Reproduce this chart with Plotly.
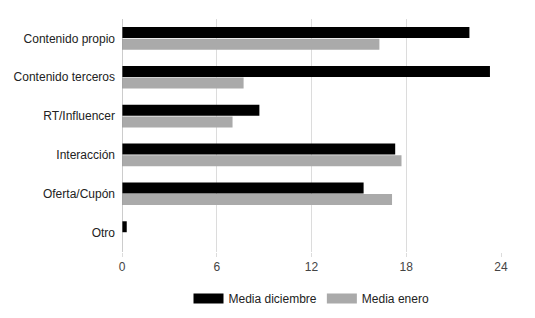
import plotly.graph_objects as go

categories = ["Contenido propio", "Contenido terceros", "RT/Influencer", "Interacción", "Oferta/Cupón", "Otro"]
media_diciembre = [22.0, 23.3, 8.7, 17.3, 15.3, 0.3]
media_enero = [16.3, 7.7, 7.0, 17.7, 17.1, 0]
x_ticks = [0, 6, 12, 18, 24]
series_names = ["Media diciembre", "Media enero"]
series_colors = ["#000000", "#aaaaaa"]

fig = go.Figure()
for name, vals, col in zip(series_names, [media_diciembre, media_enero], series_colors):
    fig.add_trace(go.Bar(y=categories, x=vals, orientation="h", name=name, showlegend=False,
                         marker=dict(color=col, line=dict(width=0))))
# legend entries with wide rectangular swatches
for name, col in zip(series_names, series_colors):
    fig.add_trace(go.Scatter(x=[None], y=[None], mode="lines", name=name,
                             line=dict(color=col, width=11)))

fig.update_layout(
    width=535, height=318,
    margin=dict(l=122, r=34, t=19, b=66, autoexpand=False),
    paper_bgcolor="white", plot_bgcolor="white",
    barmode="group", bargap=0.4, bargroupgap=0.06,
    font=dict(family="Liberation Sans, Arial, sans-serif", size=12, color="#222222"),
    legend=dict(orientation="h", x=0.5, xanchor="center", y=-0.2, yanchor="middle",
                font=dict(size=12, color="#222222"), itemwidth=30, tracegroupgap=0),
    xaxis=dict(range=[0, 24], tickvals=x_ticks, showgrid=True, gridcolor="#dcdcdc", gridwidth=1,
               zeroline=False, showline=False, tickfont=dict(color="#444444", size=12),
               ticks="outside", ticklen=4, tickcolor="#dcdcdc"),
    yaxis=dict(autorange="reversed", showgrid=False, zeroline=False, showline=False,
               ticklabelstandoff=6, tickfont=dict(color="#222222", size=12)),
    shapes=[dict(type="line", xref="x", yref="paper", x0=0, x1=0, y0=0, y1=1,
                 line=dict(color="#999999", width=1))],
)

fig.write_html("out.html")
